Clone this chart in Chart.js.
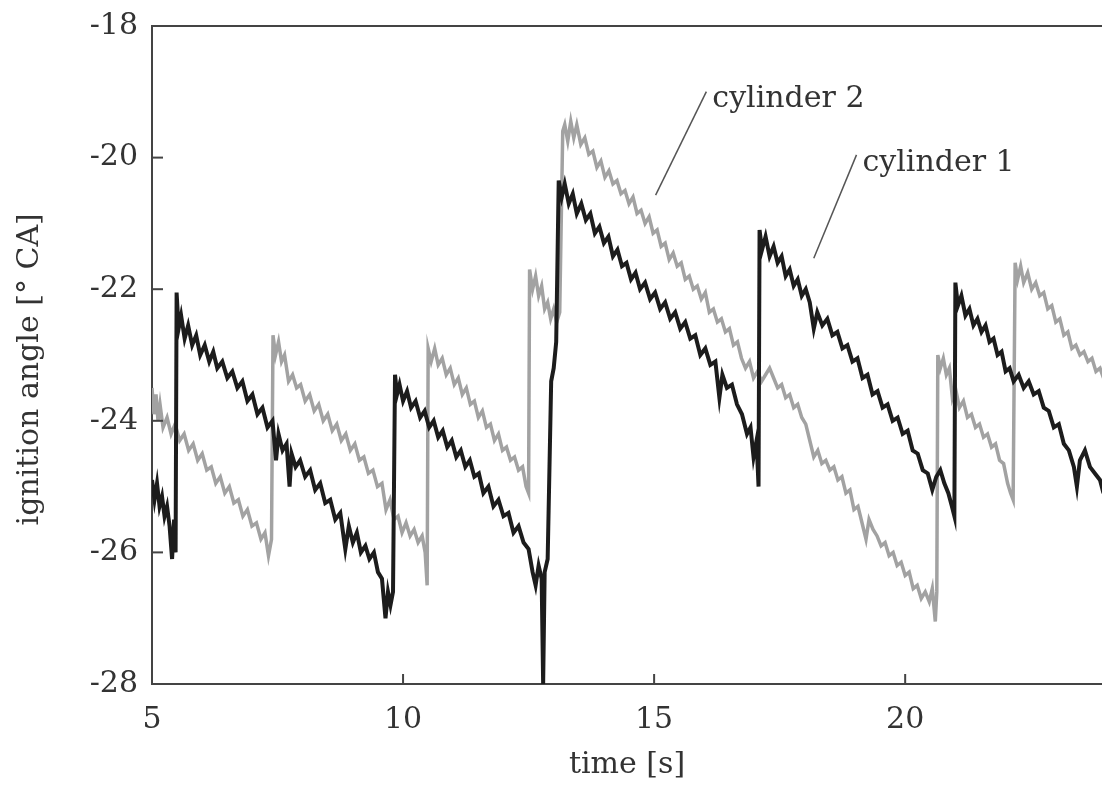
<!DOCTYPE html>
<html>
<head>
<meta charset="utf-8">
<script src="https://cdn.jsdelivr.net/npm/chart.js@4"></script>
<style>
  body { margin: 0; background: #fff; }
  #wrap { width: 1102px; height: 787px; }
</style>
</head>
<body>
<div id="wrap"><canvas id="myChart"></canvas></div>
<script>
// time [s], ignition angle [deg CA]
const cylinder1 = [
  [5.00,-24.9],[5.05,-25.2],[5.10,-24.95],[5.15,-25.3],[5.20,-25.15],[5.25,-25.45],[5.30,-25.3],[5.35,-25.6],[5.40,-26.1],[5.44,-25.5],[5.47,-26.0],
  [5.49,-22.05],[5.53,-22.6],[5.58,-22.4],[5.65,-22.75],[5.72,-22.55],[5.80,-22.85],[5.88,-22.7],[5.96,-23.0],[6.05,-22.85],[6.14,-23.1],[6.22,-22.95],
  [6.30,-23.2],[6.40,-23.1],[6.50,-23.35],[6.60,-23.25],[6.70,-23.5],[6.80,-23.4],[6.90,-23.7],[7.00,-23.6],[7.10,-23.9],[7.20,-23.8],[7.30,-24.1],
  [7.40,-24.0],[7.47,-24.6],[7.52,-24.2],[7.60,-24.45],[7.68,-24.35],[7.74,-25.0],[7.78,-24.5],[7.86,-24.7],[7.95,-24.6],[8.05,-24.85],[8.15,-24.75],
  [8.25,-25.05],[8.35,-24.95],[8.45,-25.25],[8.55,-25.2],[8.65,-25.5],[8.75,-25.4],[8.85,-25.95],[8.92,-25.6],[9.00,-25.85],[9.08,-25.7],[9.16,-26.0],
  [9.25,-25.9],[9.33,-26.1],[9.42,-26.0],[9.50,-26.3],[9.58,-26.4],[9.65,-27.0],[9.70,-26.6],[9.75,-26.8],[9.80,-26.6],
  [9.84,-23.3],[9.88,-23.6],[9.93,-23.45],[10.00,-23.7],[10.08,-23.55],[10.16,-23.8],[10.25,-23.7],[10.34,-23.95],[10.43,-23.85],[10.52,-24.1],
  [10.61,-24.0],[10.70,-24.25],[10.79,-24.15],[10.88,-24.4],[10.97,-24.3],[11.06,-24.55],[11.15,-24.45],[11.24,-24.7],[11.33,-24.6],[11.42,-24.85],
  [11.51,-24.8],[11.60,-25.1],[11.70,-25.0],[11.80,-25.3],[11.90,-25.2],[12.00,-25.45],[12.10,-25.4],[12.20,-25.7],[12.30,-25.6],[12.40,-25.85],
  [12.50,-25.95],[12.58,-26.3],[12.64,-26.5],[12.70,-26.2],[12.76,-26.4],[12.79,-28.0],[12.82,-26.3],[12.88,-26.1],
  [12.95,-23.4],[13.00,-23.2],[13.05,-22.8],
  [13.10,-20.35],[13.16,-20.6],[13.22,-20.4],[13.30,-20.7],[13.38,-20.55],[13.46,-20.85],[13.55,-20.7],[13.64,-20.95],[13.73,-20.85],[13.82,-21.15],
  [13.91,-21.05],[14.00,-21.3],[14.09,-21.2],[14.18,-21.5],[14.27,-21.4],[14.36,-21.65],[14.45,-21.6],[14.54,-21.85],[14.63,-21.75],[14.72,-22.0],
  [14.82,-21.9],[14.92,-22.15],[15.02,-22.05],[15.12,-22.3],[15.22,-22.2],[15.32,-22.45],[15.42,-22.35],[15.52,-22.6],[15.62,-22.5],[15.72,-22.75],
  [15.82,-22.7],[15.92,-23.0],[16.02,-22.9],[16.12,-23.15],[16.22,-23.1],[16.30,-23.65],[16.36,-23.3],[16.45,-23.5],[16.55,-23.45],[16.65,-23.75],
  [16.75,-23.9],[16.85,-24.2],[16.92,-24.1],[16.98,-24.55],[17.04,-24.3],[17.08,-25.0],
  [17.10,-21.1],[17.15,-21.4],[17.22,-21.2],[17.30,-21.5],[17.38,-21.35],[17.46,-21.6],[17.54,-21.5],[17.62,-21.8],[17.70,-21.7],[17.78,-21.95],
  [17.86,-21.85],[17.94,-22.1],[18.02,-22.0],[18.10,-22.2],[18.18,-22.6],[18.25,-22.35],[18.35,-22.55],[18.45,-22.45],[18.55,-22.7],[18.65,-22.65],
  [18.75,-22.9],[18.85,-22.85],[18.95,-23.1],[19.05,-23.05],[19.15,-23.35],[19.25,-23.3],[19.35,-23.6],[19.45,-23.55],[19.55,-23.8],[19.65,-23.75],
  [19.75,-24.0],[19.85,-23.95],[19.95,-24.2],[20.05,-24.15],[20.15,-24.45],[20.25,-24.5],[20.35,-24.75],[20.45,-24.8],[20.54,-25.05],[20.62,-24.85],
  [20.70,-24.75],[20.78,-24.95],[20.86,-25.1],[20.93,-25.3],[20.98,-25.45],
  [21.00,-21.9],[21.05,-22.25],[21.12,-22.1],[21.20,-22.4],[21.28,-22.3],[21.36,-22.55],[21.44,-22.45],[21.52,-22.65],[21.60,-22.55],[21.68,-22.8],
  [21.76,-22.75],[21.84,-23.0],[21.92,-22.95],[22.00,-23.25],[22.08,-23.2],[22.16,-23.4],[22.26,-23.3],[22.36,-23.5],[22.46,-23.4],[22.56,-23.6],
  [22.66,-23.55],[22.76,-23.8],[22.86,-23.85],[22.96,-24.1],[23.06,-24.05],[23.16,-24.35],[23.26,-24.45],[23.36,-24.7],[23.42,-25.0],[23.48,-24.6],
  [23.58,-24.45],[23.68,-24.7],[23.78,-24.8],[23.88,-24.9],[23.95,-25.1]
]

const cylinder2 = [
  [5.00,-23.5],[5.04,-23.9],[5.08,-23.6],[5.12,-24.0],[5.16,-23.75],[5.22,-24.1],[5.30,-23.95],[5.38,-24.2],[5.46,-24.05],[5.55,-24.3],[5.64,-24.2],
  [5.73,-24.45],[5.82,-24.35],[5.91,-24.6],[6.00,-24.5],[6.09,-24.75],[6.18,-24.7],[6.27,-24.95],[6.36,-24.85],[6.45,-25.1],[6.54,-25.0],[6.63,-25.25],
  [6.72,-25.2],[6.81,-25.45],[6.90,-25.35],[6.99,-25.6],[7.08,-25.55],[7.17,-25.8],[7.25,-25.7],[7.32,-26.05],[7.38,-25.8],
  [7.41,-22.7],[7.46,-23.0],[7.52,-22.8],[7.58,-23.1],[7.64,-23.0],[7.72,-23.4],[7.80,-23.3],[7.88,-23.5],[7.96,-23.45],[8.05,-23.7],[8.14,-23.6],
  [8.23,-23.85],[8.32,-23.75],[8.41,-24.0],[8.50,-23.9],[8.59,-24.15],[8.68,-24.05],[8.77,-24.3],[8.86,-24.2],[8.95,-24.45],[9.04,-24.35],[9.13,-24.6],
  [9.22,-24.55],[9.31,-24.8],[9.40,-24.75],[9.49,-25.0],[9.58,-24.95],[9.66,-25.35],[9.74,-25.2],[9.82,-25.5],[9.90,-25.45],[9.98,-25.7],[10.06,-25.55],
  [10.14,-25.75],[10.22,-25.65],[10.30,-25.85],[10.38,-25.75],[10.44,-26.0],[10.48,-26.5],
  [10.50,-22.9],[10.56,-23.1],[10.63,-22.9],[10.70,-23.15],[10.78,-23.05],[10.86,-23.3],[10.94,-23.2],[11.02,-23.45],[11.10,-23.35],[11.18,-23.6],
  [11.26,-23.5],[11.34,-23.75],[11.42,-23.7],[11.50,-23.95],[11.58,-23.85],[11.66,-24.1],[11.74,-24.05],[11.82,-24.3],[11.90,-24.2],[11.98,-24.45],
  [12.06,-24.4],[12.14,-24.6],[12.22,-24.55],[12.30,-24.75],[12.38,-24.7],[12.45,-25.0],[12.50,-25.1],
  [12.52,-21.7],[12.58,-22.0],[12.64,-21.8],[12.70,-22.1],[12.76,-21.95],[12.82,-22.3],[12.88,-22.2],[12.94,-22.45],[13.00,-22.3],[13.06,-22.5],[13.12,-22.35],
  [13.18,-19.6],[13.22,-19.5],[13.28,-19.75],[13.34,-19.45],[13.40,-19.7],[13.46,-19.5],[13.54,-19.8],[13.62,-19.7],[13.70,-19.95],[13.78,-19.9],
  [13.86,-20.15],[13.94,-20.05],[14.02,-20.3],[14.10,-20.2],[14.18,-20.4],[14.26,-20.35],[14.34,-20.55],[14.42,-20.5],[14.50,-20.7],[14.58,-20.6],
  [14.66,-20.85],[14.74,-20.8],[14.82,-21.0],[14.90,-20.9],[14.98,-21.15],[15.06,-21.1],[15.14,-21.35],[15.22,-21.3],[15.30,-21.55],[15.38,-21.45],
  [15.46,-21.65],[15.54,-21.6],[15.62,-21.85],[15.70,-21.8],[15.78,-22.0],[15.86,-21.95],[15.94,-22.15],[16.02,-22.05],[16.10,-22.35],[16.18,-22.3],
  [16.26,-22.5],[16.34,-22.45],[16.42,-22.65],[16.50,-22.6],[16.58,-22.85],[16.66,-22.8],[16.74,-23.05],[16.82,-23.2],[16.90,-23.1],[16.98,-23.35],
  [17.06,-23.25],[17.14,-23.4],[17.22,-23.3],[17.30,-23.2],[17.38,-23.35],[17.46,-23.5],[17.54,-23.45],[17.62,-23.65],[17.70,-23.6],[17.78,-23.8],
  [17.86,-23.75],[17.94,-23.95],[18.02,-24.05],[18.10,-24.3],[18.18,-24.55],[18.26,-24.45],[18.34,-24.65],[18.42,-24.6],[18.50,-24.75],[18.58,-24.7],
  [18.66,-24.9],[18.74,-24.85],[18.82,-25.1],[18.90,-25.05],[18.98,-25.35],[19.06,-25.3],[19.14,-25.55],[19.22,-25.8],[19.28,-25.5],[19.36,-25.65],
  [19.44,-25.75],[19.52,-25.9],[19.60,-25.85],[19.68,-26.05],[19.76,-26.0],[19.84,-26.2],[19.92,-26.15],[20.00,-26.35],[20.08,-26.3],[20.16,-26.55],
  [20.24,-26.5],[20.32,-26.7],[20.40,-26.6],[20.48,-26.75],[20.54,-26.55],[20.60,-27.05],[20.63,-26.6],
  [20.65,-23.0],[20.70,-23.2],[20.76,-23.05],[20.82,-23.3],[20.88,-23.2],[20.94,-23.65],[21.00,-23.5],[21.08,-23.8],[21.16,-23.7],[21.24,-23.95],
  [21.32,-23.9],[21.40,-24.1],[21.48,-24.05],[21.56,-24.25],[21.64,-24.2],[21.72,-24.4],[21.80,-24.35],[21.88,-24.6],[21.96,-24.65],[22.04,-24.95],
  [22.10,-25.1],[22.15,-25.2],
  [22.19,-21.6],[22.24,-21.85],[22.30,-21.65],[22.36,-21.9],[22.44,-21.75],[22.52,-22.0],[22.60,-21.9],[22.68,-22.1],[22.76,-22.05],[22.84,-22.3],
  [22.92,-22.25],[23.00,-22.5],[23.08,-22.45],[23.16,-22.7],[23.24,-22.65],[23.32,-22.9],[23.40,-22.85],[23.48,-23.0],[23.56,-22.95],[23.64,-23.1],
  [23.72,-23.05],[23.80,-23.25],[23.88,-23.2],[23.95,-23.35]
]

const xTicks = [5, 10, 15, 20]
const yTicks = [-28, -26, -24, -22, -20, -18]

// label text, label anchor (t, angle), leader line end (t, angle)
const labelText = ['cylinder 2', 'cylinder 1']
const labelAt = [[16.16, -19.12], [19.15, -20.08]]
const leaderTo = [[15.03, -20.57], [18.18, -21.53]]

const serif = '"DejaVu Serif", "Liberation Serif", serif'
const textColor = '#333'
const axisColor = '#444'

function toPoints(rows) {
  return rows.map(r => ({ x: r[0], y: r[1] }))
}

const framePlugin = {
  id: 'frame',
  afterDraw(chart) {
    const c = chart.ctx
    const area = chart.chartArea
    const xs = chart.scales.x
    const ys = chart.scales.y
    c.save()
    c.strokeStyle = axisColor
    c.lineWidth = 2
    c.beginPath()
    c.moveTo(area.left, area.top)
    c.lineTo(area.right, area.top)
    c.stroke()
    // inward tick marks
    c.fillStyle = axisColor
    xTicks.forEach(v => {
      const px = xs.getPixelForValue(v)
      c.fillRect(px - 1, area.bottom - 10, 2, 10)
    })
    yTicks.forEach(v => {
      const py = ys.getPixelForValue(v)
      c.fillRect(area.left, py - 1, 11, 2)
    })

    c.lineWidth = 1.5
    c.strokeStyle = '#555'
    c.fillStyle = textColor
    c.font = '30px ' + serif
    c.textAlign = 'left'
    c.textBaseline = 'middle'
    labelText.forEach((txt, i) => {
      const lx = xs.getPixelForValue(labelAt[i][0])
      const ly = ys.getPixelForValue(labelAt[i][1])
      c.beginPath()
      c.moveTo(lx - 6, ly - 8)
      c.lineTo(xs.getPixelForValue(leaderTo[i][0]), ys.getPixelForValue(leaderTo[i][1]))
      c.stroke()
      c.fillText(txt, lx, ly)
    })
    c.restore()
  }
}

var ctx = document.getElementById('myChart')
var lineChart = new Chart(ctx, {
  type: 'line',
  data: {
    datasets: [{
      label: 'cylinder 1',
      data: toPoints(cylinder1),
      borderColor: '#1c1c1c',
      borderWidth: 4,
      pointRadius: 0,
      tension: 0
    }, {
      label: 'cylinder 2',
      data: toPoints(cylinder2),
      borderColor: '#a2a2a2',
      borderWidth: 3.5,
      pointRadius: 0,
      tension: 0
    }]
  },
  options: {
    responsive: true,
    maintainAspectRatio: false,
    animation: false,
    layout: { padding: { top: 20, right: 0, left: 0, bottom: 0 } },
    plugins: { legend: { display: false }, tooltip: { enabled: false } },
    scales: {
      x: {
        type: 'linear',
        min: 5,
        max: 23.92,
        afterBuildTicks: s => { s.ticks = xTicks.map(v => ({ value: v })) },
        afterFit: s => { s.height = 103 },
        grid: { drawOnChartArea: false, drawTicks: false },
        border: { color: axisColor, width: 2 },
        ticks: { color: textColor, font: { family: serif, size: 30 }, padding: 18, maxRotation: 0 },
        title: { display: true, text: 'time [s]', color: textColor, font: { family: serif, size: 30 }, padding: { top: 0 } }
      },
      y: {
        min: -28,
        max: -18,
        afterBuildTicks: s => { s.ticks = yTicks.map(v => ({ value: v })) },
        afterFit: s => { s.width = 152 },
        grid: { drawOnChartArea: false, drawTicks: false },
        border: { color: axisColor, width: 2 },
        ticks: { color: textColor, font: { family: serif, size: 30, lineHeight: 0.8 }, padding: 14 },
        title: { display: true, text: 'ignition angle [° CA]\u00a0\u00a0\u00a0', color: textColor, font: { family: serif, size: 30 }, padding: { top: 12, bottom: 0 } }
      }
    }
  },
  plugins: [framePlugin]
})
</script>
</body>
</html>
